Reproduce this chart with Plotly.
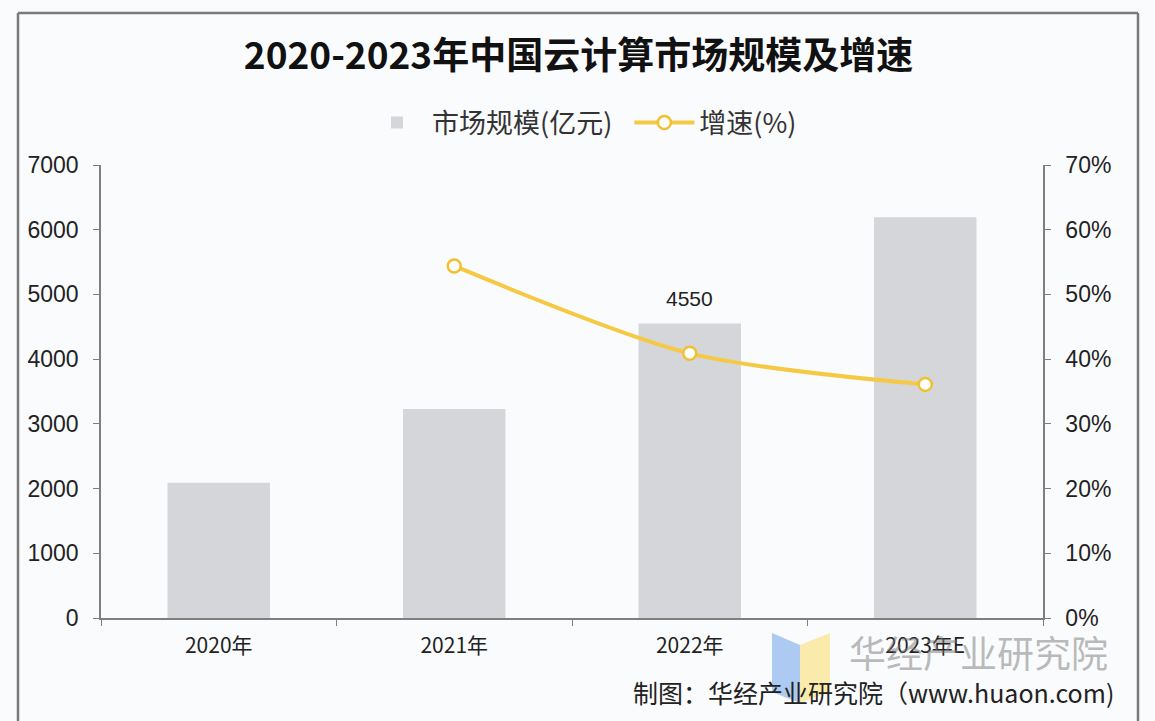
import plotly.graph_objects as go

categories = ["2020年", "2021年", "2022年", "2023年E"]
market_size = [2091, 3229, 4550, 6192]
growth_years = ["2021年", "2022年", "2023年E"]
growth_rate = [0.544, 0.409, 0.361]
labelled_category = "2022年"

W, H = 1155, 721
L, R, T, B = 101, 1043, 165, 618


def px(x):
    return (x - L) / (R - L)


def py(y):
    return (B - y) / (B - T)


FONT = "Noto Sans CJK SC"
AXIS = "#7f7f7f"

fig = go.Figure()
fig.add_trace(go.Bar(
    x=categories, y=market_size, name="市场规模(亿元)  ",
    marker=dict(color="#D5D6D9", line=dict(width=0)),
    width=0.435,
))
fig.add_trace(go.Scatter(
    x=growth_years, y=growth_rate, name="增速(%)", yaxis="y2",
    mode="lines+markers",
    line=dict(color="#F6C944", width=4, shape="spline", smoothing=0.8),
    marker=dict(size=13, color="white", line=dict(color="#F0C030", width=2.5)),
))

idx = categories.index(labelled_category)
fig.add_annotation(x=categories[idx], y=market_size[idx], text=str(market_size[idx]),
                   showarrow=False, yanchor="bottom", yshift=12,
                   font=dict(size=21, color="#222", family="Liberation Sans"))

fig.update_layout(
    width=W, height=H,
    margin=dict(l=L, r=W - R, t=T, b=H - B),
    paper_bgcolor="#FAFBFD", plot_bgcolor="#FAFBFD",
    font=dict(family=FONT, color="#222"),
    title=dict(text="<b>2020-2023年中国云计算市场规模及增速</b>",
               x=(245 + 912) / 2 / W, xanchor="center", y=1 - 56 / H, yanchor="middle",
               font=dict(size=37, family=FONT, color="#111")),
    showlegend=True,
    legend=dict(orientation="h", x=px(582), xanchor="center", y=py(123), yanchor="middle",
                font=dict(size=27, color="#333"), bgcolor="rgba(0,0,0,0)",
                traceorder="normal", itemwidth=60),
    xaxis=dict(
        type="category", showline=True, linecolor=AXIS, linewidth=1.5,
        ticks="outside", tickson="boundaries", ticklen=6, tickcolor=AXIS,
        tickfont=dict(size=21, color="#222", family=FONT),
        ticklabelstandoff=8,
        showgrid=False, zeroline=False,
    ),
    yaxis=dict(
        range=[0, 7000], dtick=1000, showline=True, linecolor=AXIS, linewidth=1.5,
        ticks="outside", ticklen=6, tickcolor=AXIS, showgrid=False, zeroline=False,
        tickfont=dict(size=23, color="#222", family="Liberation Sans"),
        ticklabelstandoff=10,
    ),
    yaxis2=dict(
        range=[0, 0.7], dtick=0.1, tickformat=".0%", overlaying="y", side="right",
        showline=True, linecolor=AXIS, linewidth=1.5,
        ticks="outside", ticklen=6, tickcolor=AXIS, showgrid=False, zeroline=False,
        tickfont=dict(size=23, color="#222", family="Liberation Sans"),
        ticklabelstandoff=10,
    ),
)

# outer frame
for x0, y0, x1, y1 in [(18, 13, 1138, 13), (18, 13, 18, 730), (1138, 13, 1138, 730)]:
    fig.add_shape(type="line", xref="paper", yref="paper",
                  x0=px(x0), y0=py(y0), x1=px(x1), y1=py(y1),
                  line=dict(color="#7a7a7a", width=2.5))

# watermark logo
blue = [(772, 633), (800, 645), (800, 703), (772, 692)]
yellow = [(800, 645), (830, 633), (830, 692), (800, 703)]
for pts, col in [(blue, "rgba(120,170,235,0.6)"), (yellow, "rgba(250,225,120,0.6)")]:
    path = "M " + " L ".join(f"{px(x)},{py(y)}" for x, y in pts) + " Z"
    fig.add_shape(type="path", xref="paper", yref="paper", path=path,
                  fillcolor=col, line=dict(width=0), layer="above")

fig.add_annotation(text="华经产业研究院", xref="paper", yref="paper",
                   x=px(847), xanchor="left", y=py(652), yanchor="middle",
                   showarrow=False, font=dict(size=37, color="rgba(120,120,120,0.5)", family=FONT))
fig.add_annotation(text="制图：华经产业研究院（www.huaon.com)", xref="paper", yref="paper",
                   x=px(1116), xanchor="right", y=py(692), yanchor="middle",
                   showarrow=False, font=dict(size=25, color="#222", family=FONT))

fig.write_html("out.html")
